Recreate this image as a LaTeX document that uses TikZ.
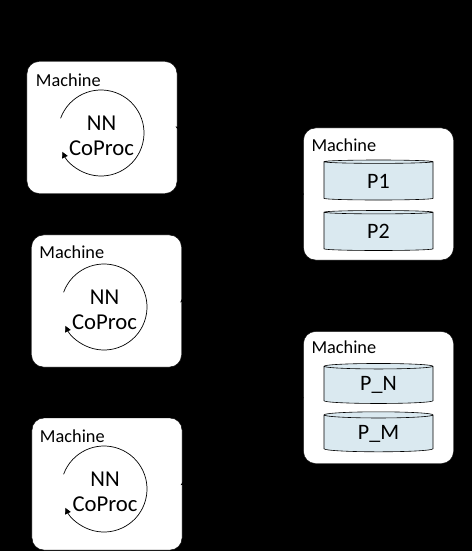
\documentclass[tikz,border=0pt]{standalone}
\usepackage{fontspec}
\setmainfont{Carlito}
\usetikzlibrary{shapes.geometric,arrows.meta}
\definecolor{canfill}{RGB}{218,233,240}

\begin{document}
\begin{tikzpicture}[x=1bp,y=1bp,
  machine/.style={draw=black,fill=white,rounded corners=12bp,minimum width=150bp,minimum height=132bp,inner sep=0pt},
  title/.style={font=\fontsize{18.3bp}{22bp}\selectfont,inner sep=0pt,anchor=base west},
  coproc/.style={font=\fontsize{22.7bp}{25bp}\selectfont,align=center,inner sep=0pt},
  store/.style={cylinder,shape border rotate=90,shape aspect=0.15,draw=black,fill=canfill,line width=0.6bp,minimum width=109bp,minimum height=40bp,inner sep=0pt,font=\fontsize{22bp}{25bp}\selectfont},
  loop/.style={line width=0.7bp,-{Triangle[length=6bp,width=6bp]}},
  link/.style={black,line width=1bp,shorten >=-2bp,-{Stealth[length=8bp]}}]
 	% page
 	\useasboundingbox (0,0) rectangle (472,-551);
 	\fill [black] (0,0) rectangle (472,-551);
 	% machines with a coprocessor
 	\node [machine] (m1) at (102,-127.5) {};
 	\node [machine] (m2) at (106.5,-301) {};
 	\node [machine] (m3) at (107,-484) {};
 	\node [title] (t1) at ([shift={(9,-25)}]m1.north west) {Machine};
 	\node [title] (t2) at ([shift={(8,-24)}]m2.north west) {Machine};
 	\node [title] (t3) at ([shift={(8,-25)}]m3.north west) {Machine};
 	\node [coproc] (nn1) at (101.5,-135.5) {NN\\CoProc};
 	\node [coproc] (nn2) at (104.5,-309.5) {NN\\CoProc};
 	\node [coproc] (nn3) at (105,-491.5) {NN\\CoProc};
 	\draw [loop] ([shift={(160:43)}]101,-133) arc[start angle=160,end angle=-154,radius=43];
 	\draw [loop] ([shift={(160:43)}]104,-307) arc[start angle=160,end angle=-154,radius=43];
 	\draw [loop] ([shift={(160:43)}]104,-489) arc[start angle=160,end angle=-154,radius=43];
 	% machines with the stores
 	\node [machine] (r1) at (378.5,-194) {};
 	\node [machine] (r2) at (378.5,-397.5) {};
 	\node [title] (t4) at ([shift={(8,-24)}]r1.north west) {Machine};
 	\node [title] (t5) at ([shift={(8,-22)}]r2.north west) {Machine};
 	\node [store] (p1) at (378.5,-181) {P1};
 	\node [store] (p2) at (378.5,-231.5) {P2};
 	\node [store] (pn) at (378.5,-385) {P\_N};
 	\node [store] (pm) at (378.5,-433.5) {P\_M};
 	% links
 	\draw [link] (r1.west) -- (m1.east);
 	\draw [link] (r1.west) -- (m2.east);
 	\draw [link] (r2.west) -- (m3.east);
 	\end{tikzpicture}
\end{document}
